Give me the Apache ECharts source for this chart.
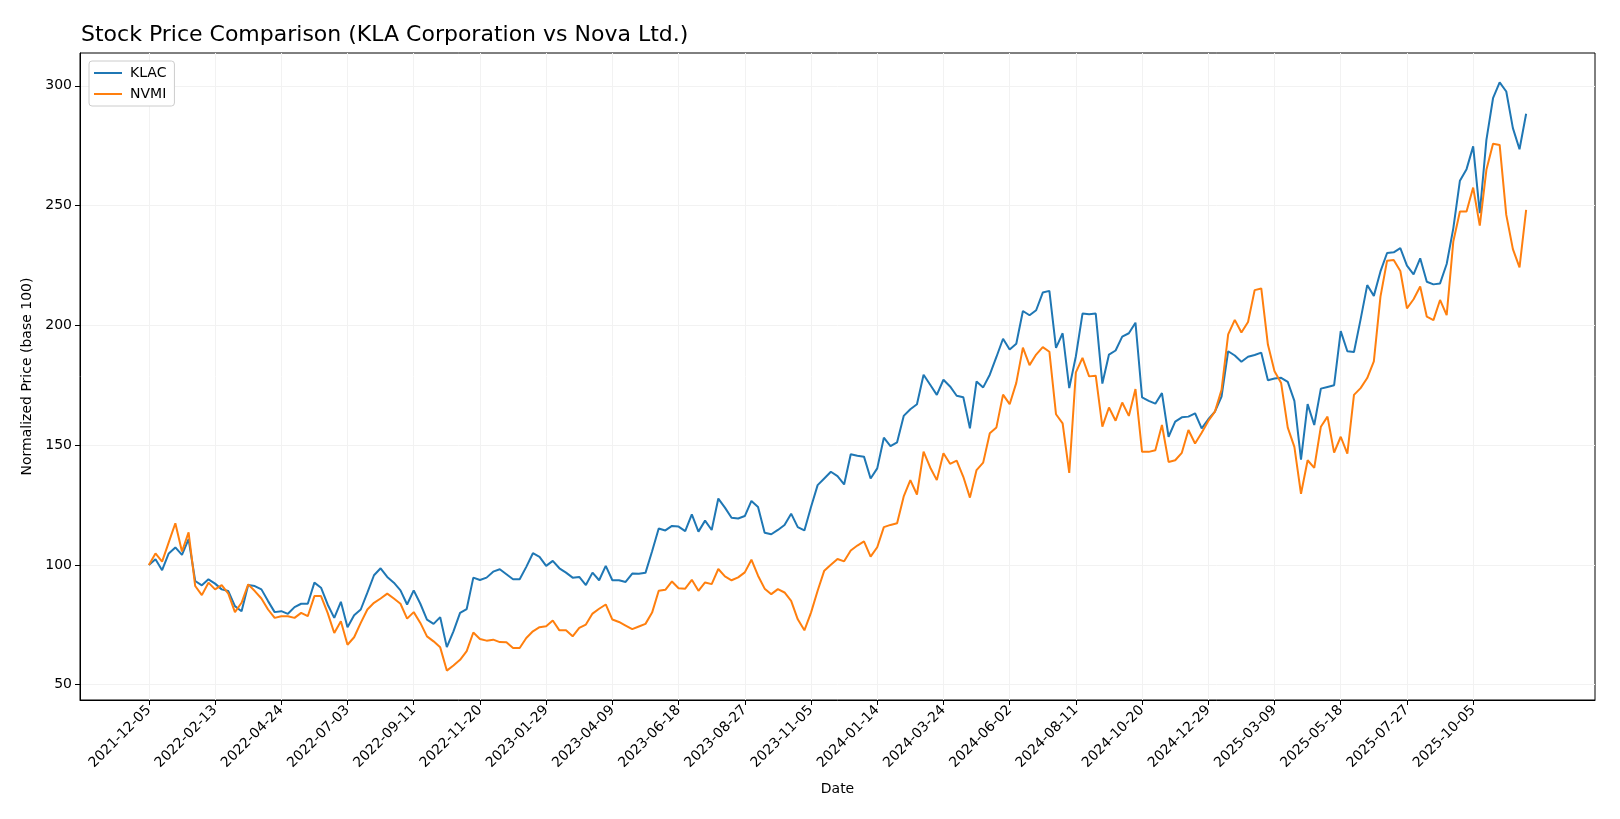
<!DOCTYPE html>
<html lang="en">
<head>
  <meta charset="UTF-8">
  <title>Stock Price Comparison</title>
  <style>
    html, body { margin: 0; padding: 0; background: #fff; }
    #chart { width: 1620px; height: 819px; }
  </style>
</head>
<body>
  <div id="chart"></div>
  <script src="https://cdn.jsdelivr.net/npm/echarts@6/dist/echarts.min.js"></script>
  <script>
    // weekly closes, normalized to 100 at the first week (2021-12-05)
    var tickLabels = [
      '2021-12-05', '2022-02-13', '2022-04-24', '2022-07-03', '2022-09-11',
      '2022-11-20', '2023-01-29', '2023-04-09', '2023-06-18', '2023-08-27',
      '2023-11-05', '2024-01-14', '2024-03-24', '2024-06-02', '2024-08-11',
      '2024-10-20', '2024-12-29', '2025-03-09', '2025-05-18', '2025-07-27',
      '2025-10-05'
    ]

    var klac = [
      100, 102.4, 97.8, 104.8, 107.3, 104.2, 110.8, 93.3, 91.5, 94.0,
      92.2, 89.8, 89.1, 82.8, 80.7, 91.6, 91.2, 89.8, 84.9, 80.3,
      80.7, 79.6, 82.4, 83.8, 83.8, 92.6, 90.5, 83.5, 77.9, 84.6,
      74.0, 79.0, 81.4, 88.4, 95.7, 98.6, 95.0, 92.6, 89.4, 83.5,
      89.4, 83.8, 77.2, 75.4, 78.2, 65.7, 72.3, 80.0, 81.6, 94.7,
      93.7, 94.7, 97.2, 98.2, 96.1, 94.0, 94.0, 99.2, 104.9, 103.4,
      99.6, 101.7, 98.6, 96.8, 94.7, 95.0, 91.6, 96.8, 93.6, 99.6,
      93.6, 93.6, 92.9, 96.4, 96.3, 96.7, 105.7, 115.2, 114.4, 116.3,
      116.0, 114.1, 121.1, 113.9, 118.5, 114.6, 127.7, 123.9, 119.7, 119.4,
      120.4, 126.7, 124.2, 113.4, 112.8, 114.6, 116.7, 121.4, 115.8, 114.4,
      124.2, 133.3, 136.1, 138.9, 137.1, 133.6, 146.2, 145.6, 145.2, 136.1,
      140.3, 153.1, 149.6, 151.2, 162.2, 165.0, 167.1, 179.4, 175.2, 171.0,
      177.3, 174.5, 170.6, 170.0, 157.0, 176.6, 174.1, 179.4, 186.8, 194.4,
      189.9, 192.3, 206.0, 204.2, 206.3, 213.7, 214.4, 190.6, 196.7, 173.8,
      187.1, 204.9, 204.6, 204.9, 175.7, 187.8, 189.5, 195.3, 196.7, 201.1,
      169.9, 168.5, 167.3, 171.7, 153.5, 159.8, 161.6, 161.9, 163.3, 157.0,
      160.8, 164.0, 170.3, 189.2, 187.4, 184.8, 186.9, 187.6, 188.6, 177.1,
      177.8, 178.1, 176.4, 168.5, 144.0, 167.1, 158.4, 173.6, 174.3, 175.0,
      197.6, 189.2, 188.9, 202.5, 216.8, 212.3, 222.5, 230.2, 230.5, 232.2,
      224.9, 221.3, 228.0, 218.2, 217.1, 217.5, 225.6, 240.5, 260.4, 265.2,
      274.7, 246.8, 277.4, 294.8, 301.4, 297.6, 282.3, 273.5, 288.3
    ]

    var nvmi = [
      100, 104.8, 101.4, 109.4, 117.4, 105.6, 113.6, 91.2, 87.4, 92.6,
      89.8, 91.6, 88.0, 80.3, 84.2, 91.9, 89.1, 86.0, 81.4, 77.9,
      78.6, 78.6, 77.9, 80.0, 78.6, 87.0, 87.0, 80.0, 71.6, 76.5,
      66.7, 69.8, 75.8, 81.4, 84.2, 86.0, 88.0, 86.0, 83.8, 77.6,
      80.3, 75.8, 70.2, 68.1, 65.6, 55.9, 58.0, 60.4, 64.0, 71.8,
      69.1, 68.4, 68.8, 67.8, 67.7, 65.3, 65.3, 69.5, 72.3, 74.0,
      74.4, 76.8, 72.7, 72.7, 70.2, 73.7, 75.1, 79.7, 81.7, 83.5,
      77.2, 76.2, 74.7, 73.2, 74.3, 75.4, 80.1, 89.2, 89.6, 93.1,
      90.3, 90.1, 93.8, 89.2, 92.7, 92.0, 98.3, 95.2, 93.6, 94.8,
      96.9, 102.2, 95.5, 90.1, 87.8, 89.9, 88.5, 85.0, 77.3, 72.7,
      80.1, 89.2, 97.6, 100.1, 102.5, 101.5, 106.0, 108.1, 109.8, 103.5,
      107.4, 115.8, 116.7, 117.4, 128.6, 135.4, 129.4, 147.3, 140.7, 135.4,
      146.6, 142.2, 143.5, 136.8, 128.1, 139.6, 142.7, 155.0, 157.4, 171.1,
      167.1, 176.0, 190.7, 183.4, 187.8, 190.9, 189.0, 162.9, 159.1, 138.4,
      180.4, 186.4, 178.7, 179.0, 157.7, 165.7, 160.2, 167.8, 162.2, 173.4,
      147.2, 147.2, 147.9, 158.4, 143.0, 143.7, 146.8, 156.3, 150.7, 155.2,
      160.1, 164.0, 173.1, 196.2, 202.3, 197.0, 201.4, 214.7, 215.4, 192.0,
      180.8, 175.9, 157.3, 149.3, 129.7, 143.7, 140.5, 157.7, 161.9, 146.9,
      153.5, 146.5, 171.0, 173.8, 178.0, 185.0, 212.0, 227.0, 227.3, 222.7,
      207.1, 210.9, 216.2, 203.6, 202.2, 210.6, 204.3, 235.0, 247.5, 247.5,
      257.5, 241.6, 264.9, 275.8, 275.3, 246.1, 231.8, 224.2, 248.2
    ]

    var yTicks = [50, 100, 150, 200, 250, 300]

    var toPairs = function (arr) {
      return arr.map(function (v, i) { return [i, v] })
    }

    var last = klac.length - 1
    var xPad = last * 0.05
    var xTicks = tickLabels.map(function (d, i) { return i * 10 })

    var font = 'DejaVu Sans'

    var option = {
      animation: false,
      textStyle: { fontFamily: font },
      title: {
        text: 'Stock Price Comparison (KLA Corporation vs Nova Ltd.)',
        left: 81,
        top: 24,
        padding: 0,
        textStyle: { fontSize: 22, fontWeight: 'normal', color: '#000', fontFamily: font }
      },
      legend: {
        orient: 'vertical',
        left: 89,
        top: 61,
        padding: [4, 8, 4, 5],
        icon: 'rect',
        itemWidth: 28,
        itemHeight: 2,
        itemGap: 5,
        borderColor: '#cccccc',
        borderWidth: 1,
        borderRadius: 3,
        backgroundColor: '#fff',
        textStyle: { fontSize: 14, lineHeight: 16, color: '#000', fontFamily: font, padding: [0, 0, 0, 3] },
        data: ['KLAC', 'NVMI']
      },
      grid: {
        left: 80,
        right: 25,
        top: 53,
        bottom: 119,
        show: true,
        borderColor: '#000',
        borderWidth: 1,
        containLabel: false
      },
      xAxis: {
        type: 'value',
        min: -xPad,
        max: last + xPad,
        name: 'Date',
        nameLocation: 'middle',
        nameGap: 82,
        nameTextStyle: { fontSize: 14, color: '#000', fontFamily: font },
        axisLine: { onZero: false, lineStyle: { color: '#000', width: 1 } },
        axisTick: { customValues: xTicks, length: 5, lineStyle: { color: '#000' } },
        axisLabel: {
          customValues: xTicks,
          rotate: 45,
          margin: 8,
          fontSize: 14,
          color: '#000',
          fontFamily: font,
          formatter: function (v) { return tickLabels[Math.round(v / 10)] || '' }
        },
        splitLine: { show: true, lineStyle: { color: '#f2f2f2', width: 1 } }
      },
      yAxis: {
        type: 'value',
        min: function (v) { return v.min - (v.max - v.min) * 0.05 },
        max: function (v) { return v.max + (v.max - v.min) * 0.05 },
        name: 'Normalized Price (base 100)',
        nameLocation: 'middle',
        nameGap: 42,
        nameTextStyle: { fontSize: 14, color: '#000', fontFamily: font },
        axisLine: { show: true, onZero: false, lineStyle: { color: '#000', width: 1 } },
        axisTick: { show: true, customValues: yTicks, length: 5, lineStyle: { color: '#000' } },
        axisLabel: { customValues: yTicks, margin: 8, fontSize: 14, color: '#000', fontFamily: font },
        splitLine: { show: true, lineStyle: { color: '#f2f2f2', width: 1 } }
      },
      series: [
        {
          name: 'KLAC',
          type: 'line',
          symbol: 'none',
          lineStyle: { color: '#1f77b4', width: 2 },
          itemStyle: { color: '#1f77b4' },
          data: toPairs(klac)
        },
        {
          name: 'NVMI',
          type: 'line',
          symbol: 'none',
          lineStyle: { color: '#ff7f0e', width: 2 },
          itemStyle: { color: '#ff7f0e' },
          data: toPairs(nvmi)
        }
      ]
    }

    var chart = echarts.init(document.getElementById('chart'))
    chart.setOption(option)
  </script>
</body>
</html>
